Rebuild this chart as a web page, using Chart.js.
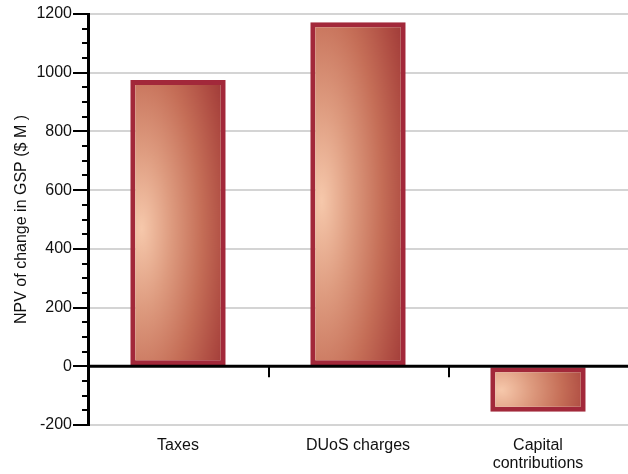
<!DOCTYPE html>
<html>
<head>
<meta charset="utf-8">
<script src="https://cdn.jsdelivr.net/npm/chart.js@4.4.1/dist/chart.umd.min.js"></script>
<style>
  html,body{margin:0;padding:0;background:#fff;}
  #wrap{width:628px;height:474px;}
</style>
</head>
<body>
<div id="wrap"><canvas id="npv"></canvas></div>
<script>
const categories = ['Taxes', 'DUoS charges', ['Capital', 'contributions']];
const npvValues = [975, 1172, -155];
const yTicks = [-200, 0, 200, 400, 600, 800, 1000, 1200];
const minorStep = 50;

const BAR_SHARE = 0.53;
const FONT = 'Liberation Sans, Arial, sans-serif';

// shaded fill for one bar: soft peach highlight on the left, dark red toward the edges
function barShade(ctx, left, top, w, h){
  const off = document.createElement('canvas');
  off.width = Math.max(1, Math.round(w));
  off.height = Math.max(1, Math.round(h));
  const g = off.getContext('2d');
  g.fillStyle = '#9c3636';
  g.fillRect(0, 0, off.width, off.height);
  g.save();
  g.translate(off.width * 0.12, off.height * 0.52);
  g.scale(1, Math.max(1, h / w) * 0.9);
  const r = w * 1.05;
  const grad = g.createRadialGradient(0, 0, 0, 0, 0, r);
  grad.addColorStop(0, '#f6c8ab');
  grad.addColorStop(0.3, '#dd9a7e');
  grad.addColorStop(0.6, '#c56e57');
  grad.addColorStop(0.85, '#ad4a41');
  grad.addColorStop(1, '#9c3636');
  g.fillStyle = grad;
  g.fillRect(-off.width, -off.height, off.width * 3, off.height * 3);
  g.restore();
  const pat = ctx.createPattern(off, 'no-repeat');
  pat.setTransform(new DOMMatrix().translate(left, top));
  return pat;
}

function barFill(context){
  const chart = context.chart;
  const xs = chart.scales.x, ys = chart.scales.y;
  if (!xs || !ys || !chart.chartArea) return '#c56e57';
  const i = context.dataIndex;
  const v = npvValues[i];
  const catW = xs.width / categories.length;
  const w = catW * BAR_SHARE;
  const left = xs.getPixelForValue(i) - w / 2;
  const top = ys.getPixelForValue(Math.max(v, 0));
  const bottom = ys.getPixelForValue(Math.min(v, 0));
  return barShade(chart.ctx, left, top, w, bottom - top);
}

// minor ticks on the value axis, the zero line and the category separators
const axisExtras = {
  id: 'axisExtras',
  afterDatasetsDraw(chart){
    const {ctx, chartArea, scales:{x, y}} = chart;
    ctx.save();
    ctx.strokeStyle = '#000';
    ctx.lineWidth = 2;
    ctx.beginPath();
    for (let v = yTicks[0]; v <= yTicks[yTicks.length - 1]; v += minorStep){
      if (v % 200 === 0) continue;
      const py = Math.round(y.getPixelForValue(v));
      ctx.moveTo(chartArea.left - 6, py);
      ctx.lineTo(chartArea.left, py);
    }
    ctx.stroke();
    const zy = y.getPixelForValue(0);
    ctx.lineWidth = 3;
    ctx.beginPath();
    ctx.moveTo(chartArea.left, zy);
    ctx.lineTo(chartArea.right, zy);
    ctx.stroke();
    ctx.lineWidth = 2;
    ctx.beginPath();
    for (let i = 0; i < categories.length - 1; i++){
      const px = Math.round((x.getPixelForValue(i) + x.getPixelForValue(i + 1)) / 2) + 1;
      ctx.moveTo(px, zy);
      ctx.lineTo(px, zy + 11);
    }
    ctx.stroke();
    ctx.restore();
  }
};

new Chart(document.getElementById('npv'), {
  type: 'bar',
  data: {
    labels: categories,
    datasets: [{
      data: npvValues,
      backgroundColor: barFill,
      borderColor: '#a2283a',
      borderWidth: 5,
      borderSkipped: false,
      categoryPercentage: BAR_SHARE,
      barPercentage: 1
    }]
  },
  options: {
    responsive: true,
    maintainAspectRatio: false,
    animation: false,
    layout: {padding: {top: 14, right: 0, bottom: 0, left: 0}},
    plugins: {legend: {display: false}, tooltip: {enabled: false}},
    scales: {
      x: {
        afterFit(scale){ scale.height = 49; },
        grid: {display: false, drawTicks: false},
        border: {display: false},
        ticks: {
          color: '#111',
          padding: 12,
          maxRotation: 0,
          font: {family: FONT, size: 16, lineHeight: 1.1}
        }
      },
      y: {
        min: -200,
        max: 1200,
        afterBuildTicks(scale){ scale.ticks = yTicks.map(v => ({value: v})); },
        afterFit(scale){ scale.width = 88; },
        border: {display: true, color: '#000', width: 3},
        grid: {
          color: '#d4d4d4',
          lineWidth: 2,
          tickColor: '#000',
          tickLength: 15,
          tickWidth: 2
        },
        ticks: {
          color: '#111',
          padding: 1,
          font: {family: FONT, size: 16},
          callback: v => String(v)
        },
        title: {
          display: true,
          text: 'NPV of change in GSP ($ M )',
          color: '#111',
          padding: {top: 12, bottom: 0},
          font: {family: FONT, size: 16}
        }
      }
    }
  },
  plugins: [axisExtras]
});
</script>
</body>
</html>
